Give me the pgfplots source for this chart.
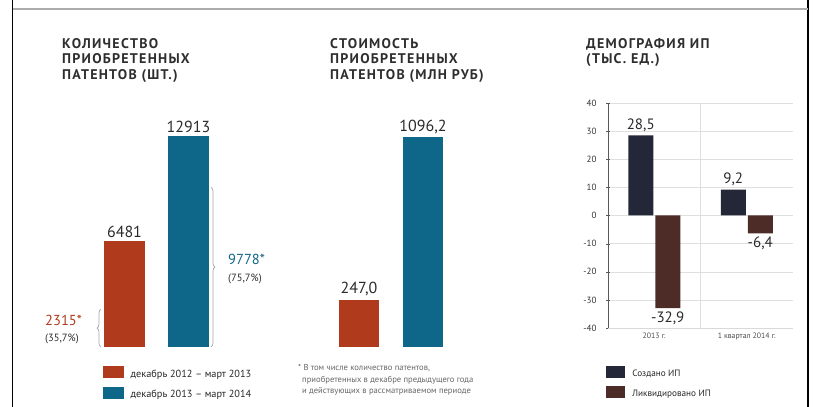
\documentclass[border=0pt]{standalone}
\usepackage{fontspec}
\setmainfont{PT Sans}
\usepackage{pgfplots}
\pgfplotsset{compat=1.18}
\usetikzlibrary{decorations.pathreplacing}
\definecolor{redc}{HTML}{B03A1C}
\definecolor{bluec}{HTML}{0E6688}
\definecolor{darkc}{HTML}{242737}
\definecolor{brownc}{HTML}{4D2C28}
\definecolor{titlec}{HTML}{2E2E2E}
\definecolor{labc}{HTML}{2A2A2A}
\newcommand{\titlefont}{\fontsize{14}{15.5}\selectfont\bfseries\addfontfeatures{LetterSpace=9}}
\begin{document}
\begin{tikzpicture}
\useasboundingbox (0pt,0pt) rectangle (820pt,407pt);
% frame
\draw[black, line width=1.3pt] (12.5pt,0pt) -- (12.5pt,407pt);
\draw[black, line width=1.3pt] (808pt,0pt) -- (808pt,407pt);
\draw[gray!65, line width=2pt] (12.5pt,398pt) -- (808pt,398pt);
% titles
\node[anchor=north west, align=left, inner sep=0pt, font=\titlefont, text=titlec] at (62pt,369pt) {КОЛИЧЕСТВО\\ПРИОБРЕТЕННЫХ\\ПАТЕНТОВ (ШТ.)};
\node[anchor=north west, align=left, inner sep=0pt, font=\titlefont, text=titlec] at (330pt,369pt) {СТОИМОСТЬ\\ПРИОБРЕТЕННЫХ\\ПАТЕНТОВ (МЛН РУБ)};
\node[anchor=north west, align=left, inner sep=0pt, font=\titlefont, text=titlec] at (586pt,369pt) {ДЕМОГРАФИЯ ИП\\(ТЫС. ЕД.)};
% footnote
\node[anchor=north west, align=left, inner sep=0pt, font=\fontsize{8.6}{11.8}\selectfont, text=gray!80!black] at (298pt,43pt) {* В том числе количество патентов,\\\hspace*{4pt}приобретенных в декабре предыдущего года\\\hspace*{4pt}и действующих в рассматриваемом периоде};

% Panel 1
\begin{axis}[at={(80pt,60pt)}, anchor=south west, scale only axis,
  width=160pt, height=212.4pt, xmin=80, xmax=240, ymin=0, ymax=13000,
  hide axis, clip=false, ybar, bar width=41pt,
  nodes near coords={\pgfmathprintnumber[1000 sep={},assume math mode=true]{\pgfplotspointmeta}},
  every node near coord/.append style={font=\fontsize{16}{18}\selectfont, text=labc},
  legend style={at={(0.14,-0.09)}, anchor=north west, draw=none, fill=none,
    font=\fontsize{10.3}{12}\selectfont, text=gray!30!black, row sep=6pt, inner sep=0pt,
    legend cell align=left},
  legend image code/.code={\fill[#1] (0pt,-4pt) rectangle (21pt,8pt); \path (26pt,0pt);}]
\addplot[fill=redc, draw=none, bar shift=0pt] coordinates {(124.5,6481)};
\addlegendentry{декабрь 2012 – март 2013}
\addplot[fill=bluec, draw=none, bar shift=0pt] coordinates {(188.5,12913)};
\addlegendentry{декабрь 2013 – март 2014}
\draw[gray!70, line width=0.7pt, decorate, decoration={brace, amplitude=4pt}] (axis cs:211,9778) -- (axis cs:211,0);
\draw[gray!70, line width=0.7pt, decorate, decoration={brace, amplitude=4pt}] (axis cs:101,0) -- (axis cs:101,2315);
\node[anchor=west, inner sep=0pt, text=bluec, font=\fontsize{14.5}{17}\selectfont] at (axis cs:228,5350) {9778*};
\node[anchor=west, inner sep=0pt, text=labc, font=\fontsize{10.5}{12}\selectfont] at (axis cs:228,4150) {(75,7\%)};
\node[anchor=west, inner sep=0pt, text=redc, font=\fontsize{14.5}{17}\selectfont] at (axis cs:45,1600) {2315*};
\node[anchor=west, inner sep=0pt, text=labc, font=\fontsize{10.5}{12}\selectfont] at (axis cs:45,480) {(35,7\%)};
\end{axis}

% Panel 2
\begin{axis}[at={(320pt,60pt)}, anchor=south west, scale only axis,
  width=140pt, height=210.7pt, xmin=320, xmax=460, ymin=0, ymax=1100,
  hide axis, clip=false, ybar, bar width=40pt,
  nodes near coords={\pgfmathprintnumber[fixed,fixed zerofill,precision=1,use comma,1000 sep={},assume math mode=true]{\pgfplotspointmeta}},
  every node near coord/.append style={font=\fontsize{16}{18}\selectfont, text=labc}]
\addplot[fill=redc, draw=none, bar shift=0pt] coordinates {(359,247.0)};
\addplot[fill=bluec, draw=none, bar shift=0pt] coordinates {(423,1096.2)};
\end{axis}

% Panel 3
\begin{axis}[at={(608pt,79pt)}, anchor=south west, scale only axis,
  width=185pt, height=225pt, xmin=-0.5, xmax=1.5, ymin=-40, ymax=40,
  ybar=2pt, bar width=25pt, clip=false,
  axis lines*=left,
  x axis line style={draw=gray!30},
  y axis line style={draw=gray!70!black, line width=0.8pt},
  ytick={-40,-30,...,40},
  xtick={0,1}, xticklabels={2013 г., 1 квартал 2014 г.},
  x tick style={draw=none},
  y tick style={draw=gray!70!black},
  tick align=center, major tick length=4pt,
  extra x ticks={0.5}, extra x tick labels={},
  extra x tick style={grid=major, major grid style={gray!25}, tick style={draw=none}},
  ymajorgrids, grid style={gray!25},
  /pgf/number format/assume math mode=true,
  yticklabel style={font=\fontsize{9}{10}\selectfont, text=gray!40!black, xshift=-6pt},
  xticklabel style={font=\fontsize{7.8}{9}\selectfont, text=gray!60!black, yshift=1pt},
  nodes near coords={\pgfmathprintnumber[fixed,fixed zerofill,precision=1,use comma,assume math mode=true]{\pgfplotspointmeta}},
  every node near coord/.append style={font=\fontsize{15}{17}\selectfont, text=labc},
  legend style={at={(-0.01,-0.17)}, anchor=north west, draw=none, fill=none,
    font=\fontsize{9.2}{10}\selectfont, text=gray!30!black, row sep=6pt, inner sep=0pt,
    legend cell align=left},
  legend image code/.code={\fill[#1] (0pt,-4pt) rectangle (19pt,8pt); \path (24pt,0pt);}]
\addplot[fill=darkc, draw=none] coordinates {(0,28.5) (1,9.2)};
\addlegendentry{Создано ИП}
\addplot[fill=brownc, draw=none] coordinates {(0,-32.9) (1,-6.4)};
\addlegendentry{Ликвидировано ИП}
\end{axis}
\end{tikzpicture}
\end{document}
